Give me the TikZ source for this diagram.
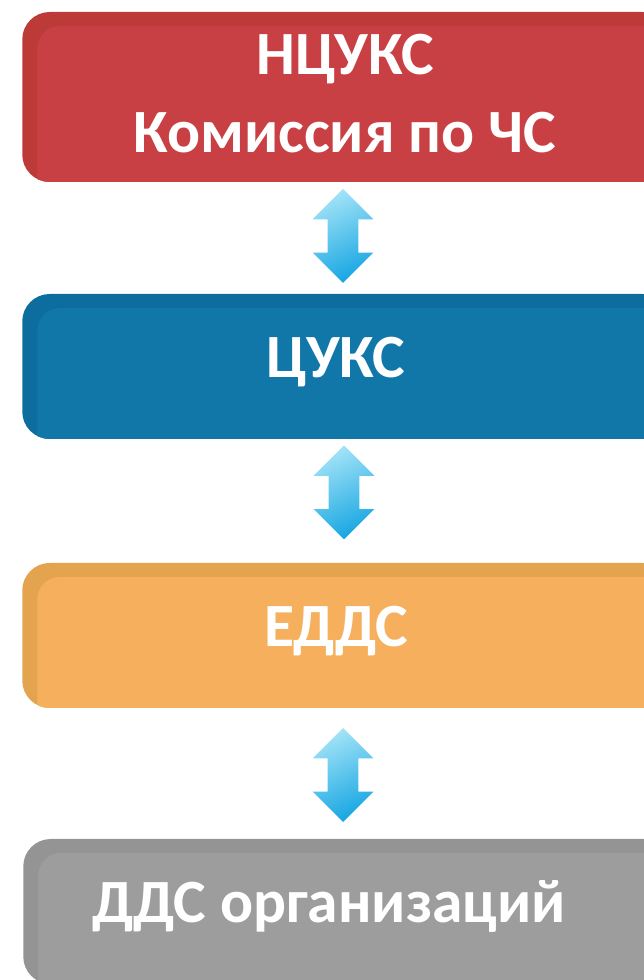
\documentclass[tikz,border=0pt]{standalone}
\usepackage{fontspec}
\setmainfont{Carlito}
\usetikzlibrary{shapes.arrows}

\definecolor{ncmain}{HTML}{C94044}
\definecolor{ncdark}{HTML}{BC3A37}
\definecolor{cuksmain}{HTML}{1176A8}
\definecolor{cuksdark}{HTML}{0C6D9E}
\definecolor{eddsmain}{HTML}{F5AF5D}
\definecolor{eddsdark}{HTML}{E4A34F}
\definecolor{ddsmain}{HTML}{9D9D9D}
\definecolor{ddsdark}{HTML}{949494}
\definecolor{arrowtop}{HTML}{A2E3F7}
\definecolor{arrowbot}{HTML}{17A6E2}

\begin{document}
\begin{tikzpicture}[
    level/.style={rounded corners=0.55cm, minimum width=12.95cm, inner sep=0pt},
    bevel/.style={path picture={\fill[#1, rounded corners=0.45cm] ([xshift=0.3cm,yshift=-0.28cm]path picture bounding box.north west) rectangle ([xshift=1cm,yshift=-1cm]path picture bounding box.south east);}},
    caption/.style={anchor=base, text=white, font=\bfseries\fontsize{35}{44.4}\selectfont, align=center},
    link/.style={double arrow, shape border rotate=90, minimum height=1.88cm, minimum width=1.2cm, double arrow head extend=0.3cm, double arrow head indent=0pt, inner sep=0.3cm, top color=arrowtop, bottom color=arrowbot, shading angle=25}
]
    \useasboundingbox (0,0) rectangle (12.88,19.6);

    % levels
    \node [level, minimum height=3.4cm, fill=ncdark, bevel=ncmain] (nc) at (6.92,17.66) {};
    \node [level, minimum height=2.9cm, fill=cuksdark, bevel=cuksmain] (cuks) at (6.92,12.27) {};
    \node [level, minimum height=2.9cm, fill=eddsdark, bevel=eddsmain] (edds) at (6.92,6.89) {};
    \node [level, minimum height=2.9cm, fill=ddsdark, bevel=ddsmain] (dds) at (6.94,1.37) {};

    \node [caption] (nc-t) at (6.9,16.54) {НЦУКС\\Комиссия по ЧС};
    \node [caption] (cuks-t) at (6.72,12.04) {ЦУКС};
    \node [caption] (edds-t) at (6.72,6.66) {ЕДДС};
    \node [caption] (dds-t) at (6.58,1.14) {ДДС организаций};

    % links
    \node [link] (l1) at (6.86,14.88) {};
    \node [link] (l2) at (6.88,9.75) {};
    \node [link] (l3) at (6.86,4.1) {};
\end{tikzpicture}
\end{document}
